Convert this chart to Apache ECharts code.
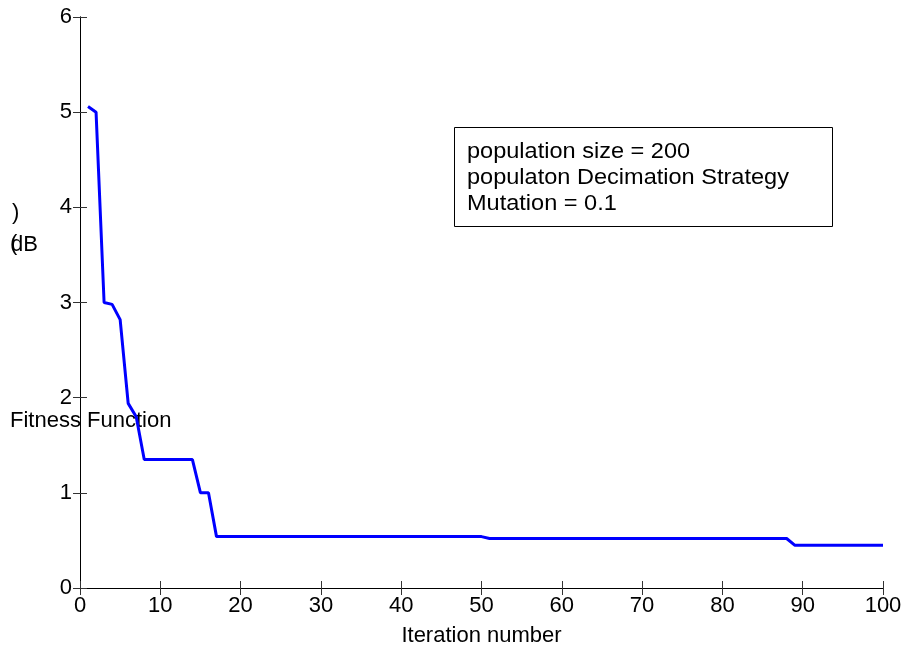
<!DOCTYPE html>
<html>
<head>
<meta charset="utf-8">
<script src="https://cdn.jsdelivr.net/npm/echarts@6/dist/echarts.min.js"></script>
<style>
  html, body { margin: 0; padding: 0; background: #fff; }
  #box { width: 907px; height: 647px; }
</style>
</head>
<body>
<div id="box"></div>
<script>
  // vertices of the fitness curve (iteration, fitness)
  const iterations = [1, 2, 3, 4, 5, 6, 7, 8, 14, 15, 16, 17, 50, 51, 88, 89, 100];
  const fitness = [5.06, 5.0, 3.0, 2.98, 2.82, 1.94, 1.8, 1.35, 1.35, 1.0, 1.0, 0.54, 0.54, 0.52, 0.52, 0.45, 0.45];
  const legendLines = ['population size = 200', 'populaton Decimation Strategy', 'Mutation = 0.1'];

  const font = 'Liberation Sans, Arial, sans-serif';
  const black = '#000';

  const tick = { show: true, inside: true, length: 7, lineStyle: { color: '#333', width: 1 } };
  const line = { show: true, lineStyle: { color: black, width: 1 } };

  const chart = echarts.init(document.getElementById('box'));
  chart.setOption({
    animation: false,
    grid: { left: 80, right: 24, top: 17, bottom: 59, outerBoundsMode: 'none' },
    xAxis: [
      {
        type: 'value', min: 0, max: 100, interval: 10, position: 'bottom',
        axisLine: line, axisTick: tick, splitLine: { show: false },
        axisLabel: { color: black, fontSize: 22, fontFamily: font, margin: 7 },
        name: 'Iteration number', nameLocation: 'middle', nameGap: 37,
        nameTextStyle: { color: black, fontSize: 22, fontFamily: font },
      },
      {
        type: 'value', min: 0, max: 100, interval: 10, position: 'top',
        axisLine: line, axisTick: tick, splitLine: { show: false },
        axisLabel: { show: false },
      },
    ],
    yAxis: [
      {
        type: 'value', min: 0, max: 6, interval: 1, position: 'left',
        axisLine: line, axisTick: tick, splitLine: { show: false },
        axisLabel: { color: black, fontSize: 22, fontFamily: font, margin: 8 },
      },
      {
        type: 'value', min: 0, max: 6, interval: 1, position: 'right',
        axisLine: line, axisTick: tick, splitLine: { show: false },
        axisLabel: { show: false },
      },
    ],
    series: [
      {
        type: 'line',
        data: iterations.map((x, i) => [x, fitness[i]]),
        showSymbol: false,
        lineStyle: { color: '#0000ff', width: 3 },
      },
    ],
    graphic: [
      // broken y-axis title as it appears in the figure
      { type: 'text', left: 12, top: 202, style: { text: ')', font: '22px ' + font, fill: black } },
      { type: 'text', left: 10, top: 233, style: { text: '(', font: '22px ' + font, fill: black } },
      { type: 'text', left: 11, top: 234, style: { text: 'dB', font: '22px ' + font, fill: black } },
      { type: 'text', left: 10, top: 410, style: { text: 'Fitness Function', font: '22px ' + font, fill: black } },
      {
        type: 'rect', left: 454, top: 127,
        shape: { width: 378, height: 99 },
        style: { fill: '#fff', stroke: black, lineWidth: 1 },
      },
      {
        type: 'text', x: 467, y: 139, scaleX: 1.07,
        style: { text: legendLines.join('\n'), font: '22px ' + font, lineHeight: 26, fill: black },
      },
    ],
  });
</script>
</body>
</html>
